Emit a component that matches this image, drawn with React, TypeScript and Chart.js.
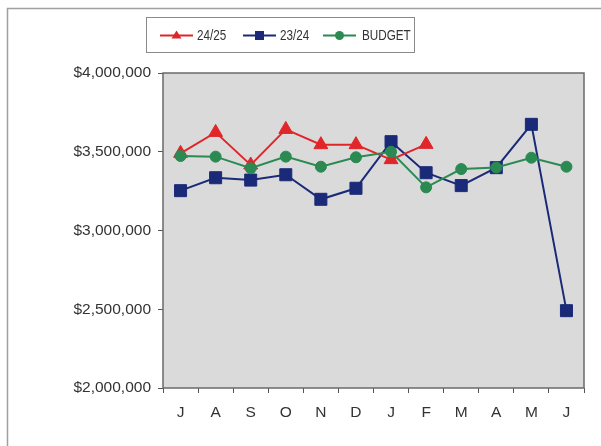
import React, { useEffect, useRef } from "react";
import { Chart, registerables } from "chart.js";

Chart.register(...registerables);

const months = ["J", "A", "S", "O", "N", "D", "J", "F", "M", "A", "M", "J"];

const current2425 = [3490000, 3623000, 3416000, 3642000, 3545000, 3545000, 3450000, 3547000, null, null, null, null];
const prior2324 = [3253000, 3335000, 3320000, 3354000, 3198000, 3268000, 3564000, 3367000, 3285000, 3399000, 3674000, 2491000];
const budget = [3473000, 3469000, 3395000, 3469000, 3405000, 3465000, 3500000, 3274000, 3390000, 3400000, 3462000, 3405000];

const yTicks = [2000000, 2500000, 3000000, 3500000, 4000000];

const RED = "#e0262a";
const BLUE = "#1b2a78";
const GREEN = "#2a8a52";
const FONT = "'Liberation Sans', Arial, sans-serif";

const fmtMoney = (v: number) => "$" + v.toLocaleString("en-US");

// Outer frame, plot background and plot border
const framePlugin = {
  id: "frame",
  beforeDraw(chart: any) {
    const { ctx, chartArea: a } = chart;
    ctx.save();
    ctx.fillStyle = "#ffffff";
    ctx.fillRect(0, 0, chart.width, chart.height);
    ctx.strokeStyle = "#a0a0a0";
    ctx.lineWidth = 1.5;
    ctx.strokeRect(7.5, 8.5, chart.width + 20, chart.height + 20);
    ctx.fillStyle = "#dadada";
    ctx.fillRect(a.left, a.top, a.right - a.left, a.bottom - a.top);
    ctx.restore();
  },
  afterDatasetsDraw(chart: any) {
    const { ctx, chartArea: a } = chart;
    ctx.save();
    ctx.strokeStyle = "#6a6a6a";
    ctx.lineWidth = 1.5;
    ctx.strokeRect(a.left, a.top, a.right - a.left, a.bottom - a.top);
    ctx.restore();
  },
};

// Boxed legend with a line-and-marker sample per series
const boxedLegend = {
  id: "boxedLegend",
  afterDraw(chart: any) {
    const { ctx } = chart;
    const items = [0, 1, 2].map((i) => chart.data.datasets[i]);
    const x0 = 146, y0 = 17, w = 268, h = 35;
    ctx.save();
    ctx.fillStyle = "#ffffff";
    ctx.fillRect(x0, y0, w, h);
    ctx.strokeStyle = "#8a8a8a";
    ctx.lineWidth = 1;
    ctx.strokeRect(x0 + 0.5, y0 + 0.5, w, h);
    const starts = [160, 243, 323];
    const textX = [197, 280, 362];
    const cy = y0 + h / 2 + 1;
    items.forEach((ds: any, i: number) => {
      const sx = starts[i];
      ctx.strokeStyle = ds.borderColor;
      ctx.lineWidth = 2;
      ctx.beginPath();
      ctx.moveTo(sx, cy);
      ctx.lineTo(sx + 33, cy);
      ctx.stroke();
      ctx.fillStyle = ds.borderColor;
      ctx.beginPath();
      const mx = sx + 16.5;
      if (ds.pointStyle === "triangle") {
        ctx.moveTo(mx, cy - 5);
        ctx.lineTo(mx + 5, cy + 3);
        ctx.lineTo(mx - 5, cy + 3);
        ctx.closePath();
      } else if (ds.pointStyle === "rect") {
        ctx.rect(mx - 4.5, cy - 4.5, 9, 9);
      } else {
        ctx.arc(mx, cy, 4.5, 0, Math.PI * 2);
      }
      ctx.fill();
      // condensed label text
      ctx.save();
      ctx.translate(textX[i], cy);
      ctx.scale(0.78, 1);
      ctx.font = `15px ${FONT}`;
      ctx.textBaseline = "middle";
      ctx.textAlign = "left";
      ctx.fillStyle = "#333333";
      ctx.fillText(ds.label, 0, 0);
      ctx.restore();
    });
    ctx.restore();
  },
};

export default function App() {
  const ref = useRef<HTMLCanvasElement | null>(null);

  useEffect(() => {
    if (!ref.current) return;
    const chart = new Chart(ref.current, {
      type: "line",
      data: {
        labels: months,
        datasets: [
          {
            label: "24/25",
            data: current2425,
            borderColor: RED,
            backgroundColor: RED,
            pointStyle: "triangle",
            pointRadius: 8,
            borderWidth: 2,
            pointBorderWidth: 1,
            order: 1,
            spanGaps: false,
          },
          {
            label: "23/24",
            data: prior2324,
            borderColor: BLUE,
            backgroundColor: BLUE,
            pointStyle: "rect",
            pointRadius: 8.5,
            borderWidth: 2,
            pointBorderWidth: 1,
            order: 2,
          },
          {
            label: "BUDGET",
            data: budget,
            borderColor: GREEN,
            backgroundColor: GREEN,
            pointStyle: "circle",
            pointRadius: 5.5,
            borderWidth: 2,
            pointBorderWidth: 1,
            order: 0,
          },
        ],
      },
      options: {
        animation: false,
        responsive: false,
        maintainAspectRatio: false,
        layout: { padding: { top: 73, right: 17, bottom: 0, left: 0 } },
        plugins: {
          legend: { display: false },
          tooltip: { enabled: false },
        },
        elements: { line: { tension: 0 } },
        scales: {
          x: {
            offset: true,
            border: { display: false },
            grid: {
              drawOnChartArea: false,
              drawTicks: true,
              tickLength: 5,
              color: "#555555",
              lineWidth: 1,
              offset: true,
            },
            ticks: {
              color: "#333333",
              font: { family: FONT, size: 15.5 },
              padding: 10,
              maxRotation: 0,
              autoSkip: false,
            },
            afterFit(scale: any) {
              scale.height = 58;
            },
          },
          y: {
            min: 2000000,
            max: 4000000,
            border: { display: false },
            afterBuildTicks(scale: any) {
              scale.ticks = yTicks.map((v) => ({ value: v }));
            },
            grid: {
              drawOnChartArea: false,
              drawTicks: true,
              tickLength: 5,
              color: "#555555",
              lineWidth: 1,
            },
            ticks: {
              color: "#333333",
              font: { family: FONT, size: 15.5 },
              padding: 7,
              callback: (v: any) => fmtMoney(Number(v)),
            },
            afterFit(scale: any) {
              scale.width = 163;
            },
          },
        },
      },
      plugins: [framePlugin, boxedLegend],
    });
    return () => chart.destroy();
  }, []);

  return (
    <div style={{ position: "absolute", left: 0, top: 0, width: 601, height: 446 }}>
      <canvas ref={ref} width={601} height={446} style={{ display: "block", width: 601, height: 446 }} />
    </div>
  );
}
